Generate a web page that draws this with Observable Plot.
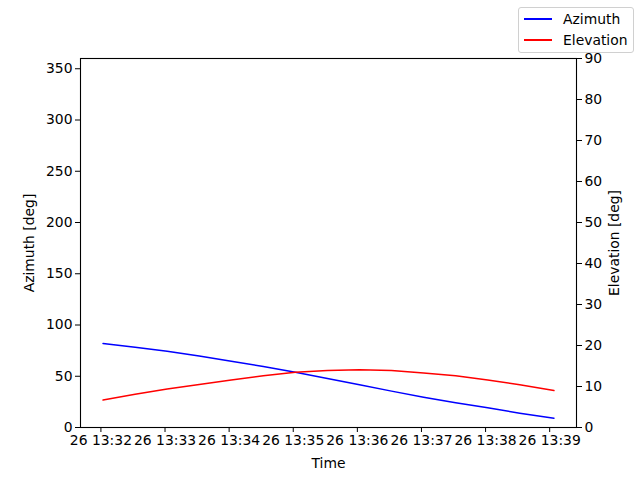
<!DOCTYPE html>
<html>
<head>
<meta charset="utf-8">
<script src="https://cdn.jsdelivr.net/npm/d3@7"></script>
<script src="https://cdn.jsdelivr.net/npm/@observablehq/plot@0.6"></script>
<style>
  body { margin: 0; background: white; }
  #wrap { position: relative; width: 640px; height: 480px; font-family: "DejaVu Sans", sans-serif; }
  #legend { position: absolute; left: 518px; top: 7px; width: 114px; height: 44px; border: 1px solid #d0d0d0; border-radius: 3px; background: rgba(255,255,255,0.8); font-size: 13.9px; color: black; }
  .row { position: absolute; left: 5px; height: 20px; display: flex; align-items: center; }
  .sw { width: 28px; height: 0; border-top: 2px solid; margin-right: 11px; }
</style>
</head>
<body>
<div id="wrap">
  <div id="chart"></div>
  <div id="legend">
    <div class="row" style="top:1px"><div class="sw" style="border-color:#0000ff"></div><span>Azimuth</span></div>
    <div class="row" style="top:22px"><div class="sw" style="border-color:#ff0000"></div><span>Elevation</span></div>
  </div>
</div>
<script>
const times = [
  "2024-01-26T13:32:02Z","2024-01-26T13:32:32Z","2024-01-26T13:33:02Z","2024-01-26T13:33:32Z",
  "2024-01-26T13:34:02Z","2024-01-26T13:34:32Z","2024-01-26T13:35:02Z","2024-01-26T13:35:32Z",
  "2024-01-26T13:36:02Z","2024-01-26T13:36:32Z","2024-01-26T13:37:02Z","2024-01-26T13:37:32Z",
  "2024-01-26T13:38:02Z","2024-01-26T13:38:32Z","2024-01-26T13:39:04Z"
];
const azimuth = [82.0, 78.3, 74.5, 69.7, 64.7, 59.5, 54.0, 47.8, 41.6, 35.5, 29.6, 24.2, 19.2, 14.0, 9.1];
const elevation = [6.7, 8.1, 9.4, 10.5, 11.6, 12.6, 13.5, 13.9, 14.1, 13.9, 13.3, 12.6, 11.6, 10.4, 9.0];
const xTickLabels = ["13:32","13:33","13:34","13:35","13:36","13:37","13:38","13:39"];
const azTicks = [0, 50, 100, 150, 200, 250, 300, 350];
const elTicks = [0, 10, 20, 30, 40, 50, 60, 70, 80, 90];
const azMax = 360, elMax = 90;
const ratio = azMax / elMax;

const data = times.map((t, i) => ({time: new Date(t), az: azimuth[i], el: elevation[i]}));
const xTicks = xTickLabels.map(s => new Date(`2024-01-26T${s}:00Z`));
const t0 = data[0].time, t1 = data[data.length - 1].time;
const pad = (t1 - t0) * 0.05;

const chart = Plot.plot({
  width: 640,
  height: 480,
  marginLeft: 80,
  marginRight: 64,
  marginTop: 58,
  marginBottom: 53,
  style: {fontFamily: "DejaVu Sans", fontSize: "13.9px", color: "black", background: "white"},
  x: {type: "utc", domain: [new Date(+t0 - pad), new Date(+t1 + pad)]},
  y: {domain: [0, azMax]},
  marks: [
    Plot.axisX({ticks: xTicks, tickFormat: d3.utcFormat("%d %H:%M"), tickSize: 5, tickPadding: 3,
      label: "Time", labelAnchor: "center", labelArrow: "none", labelOffset: 40, fontSize: 13.9}),
    Plot.axisY({ticks: azTicks, tickSize: 5, tickPadding: 3,
      label: "Azimuth [deg]", labelAnchor: "center", labelArrow: "none", labelOffset: 56, fontSize: 13.9}),
    Plot.axisY({anchor: "right", ticks: elTicks.map(v => v * ratio), tickFormat: d => d / ratio,
      tickSize: 5, tickPadding: 3,
      label: "Elevation [deg]", labelAnchor: "center", labelArrow: "none", labelOffset: 42, fontSize: 13.9}),
    Plot.lineY(data, {x: "time", y: "az", stroke: "#0000ff", strokeWidth: 1.5}),
    Plot.lineY(data, {x: "time", y: d => d.el * ratio, stroke: "#ff0000", strokeWidth: 1.5}),
    Plot.frame({stroke: "black", strokeWidth: 1.1})
  ]
});
document.getElementById("chart").appendChild(chart);
</script>
</body>
</html>
